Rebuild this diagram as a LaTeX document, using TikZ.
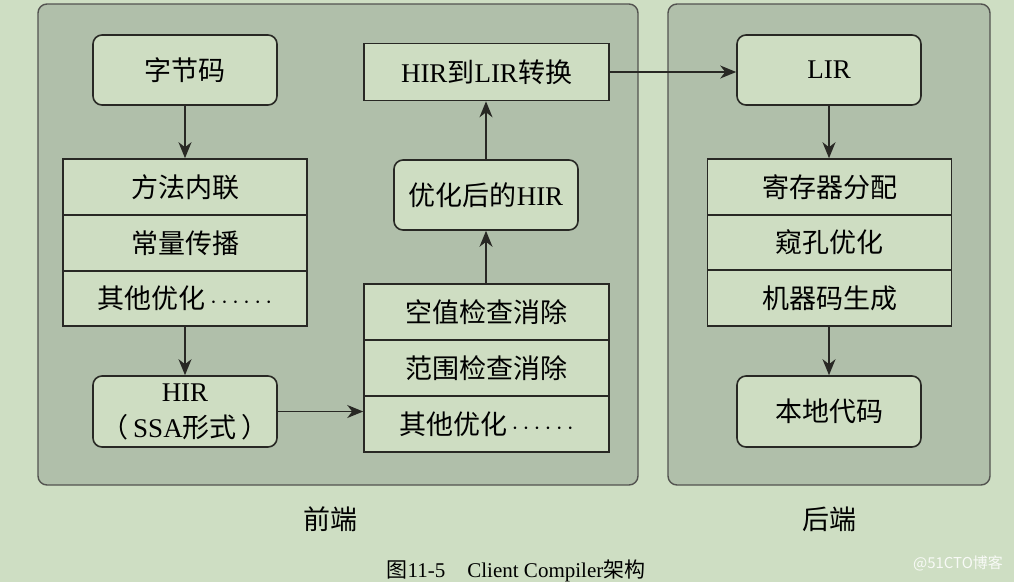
\documentclass[tikz,border=0pt]{standalone}
\usepackage{fontspec}
\setmainfont{Liberation Serif}
\newfontfamily\cjk{Noto Sans CJK SC}
\newfontfamily\wmfont{Noto Sans CJK SC}
\usetikzlibrary{arrows.meta}
\definecolor{bgc}{RGB}{206,222,195}
\definecolor{panelc}{RGB}{176,191,170}
\definecolor{boxc}{RGB}{206,221,194}
\definecolor{linec}{RGB}{40,40,36}
\newcommand{\dotsx}{\,$\cdots\cdots$}
\begin{document}
\begin{tikzpicture}[x=1pt,y=-1pt,
  txt/.style={font=\fontsize{27}{36}\selectfont, text=black, align=center},
  panel/.style={draw=linec!80, line width=1.4pt, fill=panelc, rounded corners=9pt, inner sep=0pt},
  rbox/.style={draw=linec, line width=1.6pt, fill=boxc, rounded corners=9pt, txt, inner sep=0pt, minimum width=184pt, minimum height=70pt},
  sbox/.style={draw=linec, line width=1.6pt, fill=boxc, txt, inner sep=0pt, minimum width=244pt, minimum height=56pt},
  arr/.style={draw=linec, line width=1.4pt, -{Stealth[length=16pt,width=13pt,inset=5pt]}},
]
\fill[bgc] (0,0) rectangle (1014,582);
\useasboundingbox (0,0) rectangle (1014,582);

% panels
\node[panel, minimum width=600pt, minimum height=481pt] (front) at (338,244.5) {};
\node[panel, minimum width=322pt, minimum height=481pt] (back) at (829,244.5) {};

% left column
\node[rbox] (bc) at (185,70) {\cjk 字节码};
\node[sbox] (m1) at (185,187) {\cjk 方法内联};
\node[sbox] (m2) at (185,243) {\cjk 常量传播};
\node[sbox, minimum height=55pt] (m3) at (185,298.5) {{\cjk 其他优化}\dotsx};
\node[rbox, minimum height=71pt] (hir) at (185,411.5) {HIR\\{\cjk （}\,SSA{\cjk 形式}\,{\cjk ）}};

% middle column
\node[sbox, minimum width=245pt, minimum height=57pt] (h2l) at (486.5,72) {HIR{\cjk 到}LIR{\cjk 转换}};
\node[rbox] (opt) at (486,195) {{\cjk 优化后的}HIR};
\node[sbox, minimum width=245pt] (s1) at (486.5,312) {\cjk 空值检查消除};
\node[sbox, minimum width=245pt] (s2) at (486.5,368) {\cjk 范围检查消除};
\node[sbox, minimum width=245pt] (s3) at (486.5,424) {{\cjk 其他优化}\dotsx};

% right column
\node[rbox] (lir) at (829,70) {LIR};
\node[sbox] (r1) at (829.5,187) {\cjk 寄存器分配};
\node[sbox, minimum height=55pt] (r2) at (829.5,242.5) {\cjk 窥孔优化};
\node[sbox] (r3) at (829.5,298) {\cjk 机器码生成};
\node[rbox, minimum height=71pt] (nat) at (829,411.5) {\cjk 本地代码};

% connectors
\draw[arr] (bc.south) -- (m1.north);
\draw[arr] (m3.south) -- (hir.north);
\draw[arr] (hir.east) -- (hir.east -| s3.west);
\draw[arr] (s1.north -| opt.south) -- (opt.south);
\draw[arr] (opt.north) -- (opt.north |- h2l.south);
\draw[arr] (h2l.east) -- (h2l.east -| lir.west);
\draw[arr] (lir.south) -- (lir.south |- r1.north);
\draw[arr] (r3.south -| nat.north) -- (nat.north);

% labels
\node[txt] (flabel) at (330,519) {\cjk 前端};
\node[txt] (blabel) at (829,519) {\cjk 后端};
\node[font=\fontsize{21}{24}\selectfont, text=black] (cap) at (516,571) {{\cjk 图}11-5\hspace{22pt}Client Compiler{\cjk 架构}};
\node[font=\wmfont\fontsize{15}{18}\selectfont, text=white!85!bgc] (wm) at (958,563) {@51CTO博客};
\end{tikzpicture}
\end{document}
